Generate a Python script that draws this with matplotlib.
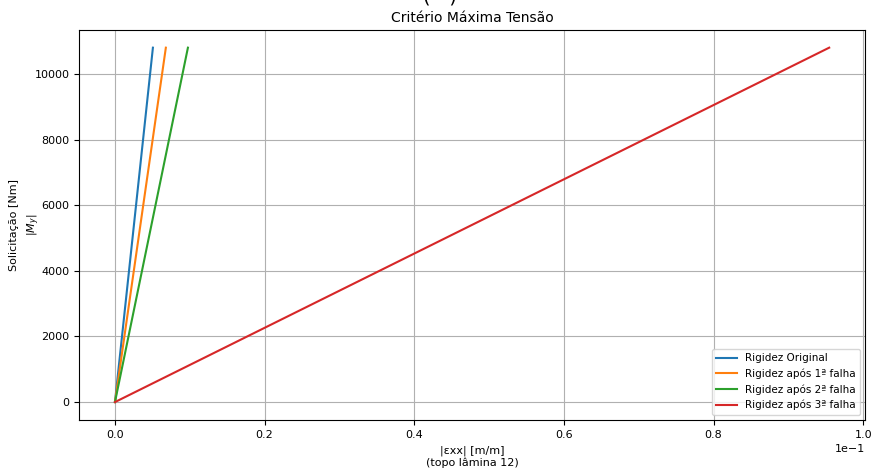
import matplotlib
matplotlib.use("Agg")
import matplotlib.pyplot as plt

# strain at top of ply 12 [m/m] at the end of each stiffness stage
labels = ["Rigidez Original", "Rigidez após 1ª falha",
          "Rigidez após 2ª falha", "Rigidez após 3ª falha"]
strain_end = [0.00507, 0.00680, 0.00975, 0.09546]
moment_end = [10800, 10800, 10800, 10800]

fig, ax = plt.subplots(figsize=(8.71, 4.68), dpi=100)

for lab, ex, my in zip(labels, strain_end, moment_end):
    ax.plot([0, ex], [0, my], label=lab)

ax.set_title("Critério Máxima Tensão", fontsize=10)
ax.set_xlabel("|εxx| [m/m]\n(topo lâmina 12)", fontsize=8)
ax.set_ylabel("Solicitação [Nm]\n$|M_y|$", fontsize=8, linespacing=1.6)
ax.yaxis.set_label_coords(-0.048, 0.5)
ax.ticklabel_format(axis="x", style="sci", scilimits=(0, 0))
ax.tick_params(labelsize=8)
ax.xaxis.get_offset_text().set_fontsize(8)
ax.grid(True)
ax.legend(loc="lower right", fontsize=7.5)

# suptitle cut off at the top edge, as in the original
fig.text(0.505, 1.006, "(   )", fontsize=14, ha="center", va="center")

fig.subplots_adjust(left=0.091, right=0.993, top=0.936, bottom=0.103)
fig.savefig("out.png")
